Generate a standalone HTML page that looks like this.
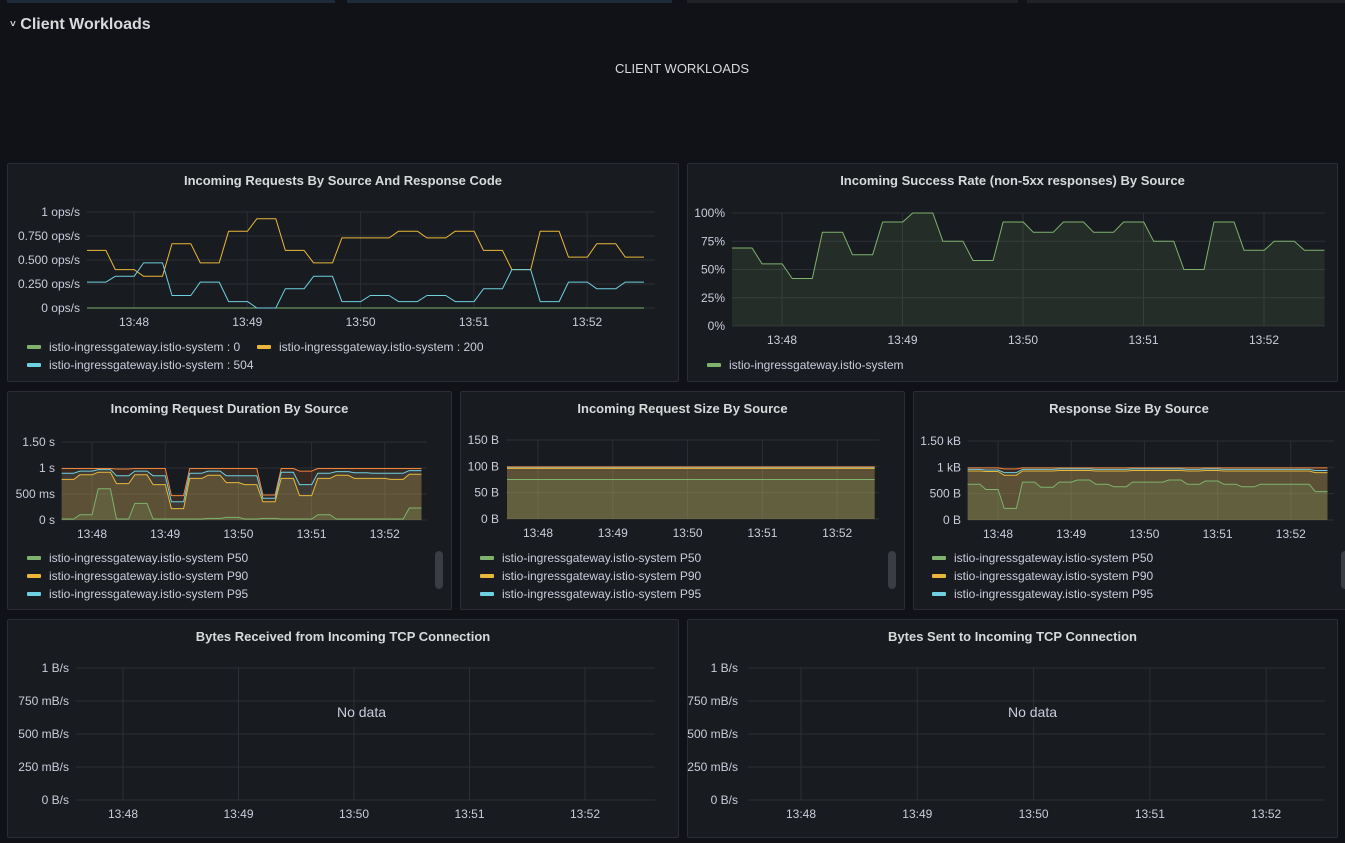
<!DOCTYPE html>
<html><head><meta charset="utf-8">
<style>
body{margin:0;width:1345px;height:843px;background:#111217;overflow:hidden;font-family:"Liberation Sans",sans-serif;color:#ccccdc;position:relative}
.panel{position:absolute;background:#181b1f;border:1px solid #2a2d33;border-radius:2px;box-sizing:border-box}
.ptitle{position:absolute;left:0;right:0;top:9px;text-align:center;font-size:13px;font-weight:bold;color:#d8d9da}
.legend{position:absolute;font-size:12px;color:#ccccdc}
.li{position:absolute;white-space:nowrap}
.li i{display:inline-block;width:14px;height:4px;border-radius:1px;margin-right:8px;vertical-align:middle;position:relative;top:-1px}
.scroll{position:absolute;width:8px;height:38px;background:#3a3d44;border-radius:4px}
svg{position:absolute;left:0;top:0}
</style></head><body>
<div style="position:absolute;left:7px;top:0;width:328px;height:3px;background:#1f2a3a"></div>
<div style="position:absolute;left:347px;top:0;width:325px;height:3px;background:#1f2a3a"></div>
<div style="position:absolute;left:687px;top:0;width:331px;height:3px;background:#202226"></div>
<div style="position:absolute;left:1027px;top:0;width:318px;height:3px;background:#202226"></div>
<div style="position:absolute;left:10px;top:16px;font-size:16px;font-weight:bold;color:#d8d9da"><span style="font-size:10px;position:relative;top:-2px">˅</span> Client Workloads</div>
<div style="position:absolute;left:0;width:1364px;top:61px;text-align:center;font-size:13px;color:#d8d9da">CLIENT WORKLOADS</div>

<div class="panel" style="left:7px;top:163px;width:672px;height:219px"><div class="ptitle">Incoming Requests By Source And Response Code</div></div>
<div class="panel" style="left:687px;top:163px;width:651px;height:219px"><div class="ptitle">Incoming Success Rate (non-5xx responses) By Source</div></div>
<div class="panel" style="left:7px;top:391px;width:445px;height:219px"><div class="ptitle">Incoming Request Duration By Source</div></div>
<div class="panel" style="left:460px;top:391px;width:445px;height:219px"><div class="ptitle">Incoming Request Size By Source</div></div>
<div class="panel" style="left:913px;top:391px;width:440px;height:219px"><div class="ptitle" style="right:8px">Response Size By Source</div></div>
<div class="panel" style="left:7px;top:619px;width:672px;height:219px"><div class="ptitle">Bytes Received from Incoming TCP Connection</div></div>
<div class="panel" style="left:687px;top:619px;width:651px;height:219px"><div class="ptitle">Bytes Sent to Incoming TCP Connection</div></div>

<div class="legend">
 <div class="li" style="left:27px;top:340px"><i style="background:#7eb26d"></i>istio-ingressgateway.istio-system : 0</div>
 <div class="li" style="left:257px;top:340px"><i style="background:#eab839"></i>istio-ingressgateway.istio-system : 200</div>
 <div class="li" style="left:27px;top:358px"><i style="background:#6ed0e0"></i>istio-ingressgateway.istio-system : 504</div>
</div>
<div class="legend">
 <div class="li" style="left:707px;top:358px"><i style="background:#7eb26d"></i>istio-ingressgateway.istio-system</div>
</div>
<div class="legend">
 <div class="li" style="left:27px;top:551px"><i style="background:#7eb26d"></i>istio-ingressgateway.istio-system P50</div>
 <div class="li" style="left:27px;top:569px"><i style="background:#eab839"></i>istio-ingressgateway.istio-system P90</div>
 <div class="li" style="left:27px;top:587px"><i style="background:#6ed0e0"></i>istio-ingressgateway.istio-system P95</div>
 <div class="scroll" style="left:435px;top:551px"></div>
</div>
<div class="legend">
 <div class="li" style="left:480px;top:551px"><i style="background:#7eb26d"></i>istio-ingressgateway.istio-system P50</div>
 <div class="li" style="left:480px;top:569px"><i style="background:#eab839"></i>istio-ingressgateway.istio-system P90</div>
 <div class="li" style="left:480px;top:587px"><i style="background:#6ed0e0"></i>istio-ingressgateway.istio-system P95</div>
 <div class="scroll" style="left:888px;top:551px"></div>
</div>
<div class="legend">
 <div class="li" style="left:932px;top:551px"><i style="background:#7eb26d"></i>istio-ingressgateway.istio-system P50</div>
 <div class="li" style="left:932px;top:569px"><i style="background:#eab839"></i>istio-ingressgateway.istio-system P90</div>
 <div class="li" style="left:932px;top:587px"><i style="background:#6ed0e0"></i>istio-ingressgateway.istio-system P95</div>
 <div class="scroll" style="left:1341px;top:551px"></div>
</div>

<svg id="charts" width="1345" height="843"></svg>

<script>
// ---- data (values per 15s step, starting 13:47:35) ----
const timeTicks = [48, 49, 50, 51, 52];
const timeTickLabels = ["13:48", "13:49", "13:50", "13:51", "13:52"];
const startMinute = 47.585;
const stepMinutes = 0.25;

const reqCode0 = [0,0,0,0,0,0,0,0,0,0,0,0,0,0,0,0,0,0,0,0];
const reqCode200 = [0.6,0.4,0.33,0.67,0.47,0.8,0.93,0.6,0.47,0.73,0.73,0.8,0.73,0.8,0.6,0.4,0.8,0.53,0.67,0.53];
const reqCode504 = [0.27,0.33,0.47,0.13,0.27,0.067,0,0.2,0.33,0.067,0.13,0.067,0.13,0.067,0.2,0.4,0.067,0.27,0.2,0.27];
const reqTicks = [0, 0.25, 0.5, 0.75, 1];
const reqTickLabels = ["0 ops/s", "0.250 ops/s", "0.500 ops/s", "0.750 ops/s", "1 ops/s"];

const successRate = [69,55,42,83,63,92,100,75,58,92,83,92,83,92,75,50,92,67,75,67];
const successTicks = [0, 25, 50, 75, 100];
const successTickLabels = ["0%", "25%", "50%", "75%", "100%"];

const durP50 = [0.02,0.1,0.6,0.02,0.32,0.02,0.02,0.02,0.03,0.05,0.02,0.03,0.02,0.02,0.1,0.02,0.02,0.02,0.02,0.23];
const durP90 = [0.78,0.87,0.92,0.7,0.87,0.68,0.22,0.8,0.86,0.72,0.68,0.35,0.8,0.47,0.8,0.86,0.8,0.8,0.78,0.88];
const durP95 = [0.9,0.94,0.97,0.85,0.94,0.85,0.35,0.9,0.94,0.85,0.85,0.42,0.92,0.68,0.9,0.93,0.91,0.9,0.9,0.95];
const durP99 = [0.99,0.99,0.99,0.98,0.99,0.99,0.47,0.99,0.99,0.99,0.99,0.48,0.99,0.94,0.99,0.99,0.99,0.99,0.99,0.99];
const durTicks = [0, 0.5, 1, 1.5];
const durTickLabels = ["0 s", "500 ms", "1 s", "1.50 s"];

const reqSizeP50 = [75,75,75,75,75,75,75,75,75,75,75,75,75,75,75,75,75,75,75,75];
const reqSizeP90 = [96,96,96,96,96,96,96,96,96,96,96,96,96,96,96,96,96,96,96,96];
const reqSizeP95 = [97,97,97,97,97,97,97,97,97,97,97,97,97,97,97,97,97,97,97,97];
const reqSizeP99 = [99,99,99,99,99,99,99,99,99,99,99,99,99,99,99,99,99,99,99,99];
const reqSizeTicks = [0, 50, 100, 150];
const reqSizeTickLabels = ["0 B", "50 B", "100 B", "150 B"];

const respP50 = [0.68,0.58,0.22,0.72,0.62,0.72,0.76,0.68,0.63,0.72,0.72,0.76,0.68,0.74,0.68,0.63,0.68,0.68,0.68,0.54];
const respP90 = [0.93,0.92,0.85,0.93,0.93,0.94,0.94,0.93,0.93,0.94,0.94,0.94,0.93,0.94,0.93,0.93,0.93,0.93,0.93,0.9];
const respP95 = [0.96,0.95,0.9,0.96,0.96,0.97,0.97,0.96,0.96,0.97,0.97,0.97,0.96,0.97,0.96,0.96,0.96,0.96,0.96,0.94];
const respP99 = [0.99,0.99,0.97,0.99,0.99,0.99,0.99,0.99,0.99,0.99,0.99,0.99,0.99,0.99,0.99,0.99,0.99,0.99,0.99,0.99];
const respTicks = [0, 0.5, 1, 1.5];
const respTickLabels = ["0 B", "500 B", "1 kB", "1.50 kB"];

const tcpTicks = [0, 0.25, 0.5, 0.75, 1];
const tcpTickLabels = ["0 B/s", "250 mB/s", "500 mB/s", "750 mB/s", "1 B/s"];

const GREEN="#7eb26d", YELLOW="#eab839", CYAN="#6ed0e0", ORANGE="#ef843c";
const NS="http://www.w3.org/2000/svg";
const svg=document.getElementById('charts');

function el(tag, attrs, parent){
  const e=document.createElementNS(NS,tag);
  for(const k in attrs) e.setAttribute(k,attrs[k]);
  (parent||svg).appendChild(e);
  return e;
}

function chart(cfg){
  const g=el('g',{});
  
  
  const xs=t=>cfg.x48+(t-48)*cfg.ppm;
  const ys=v=>cfg.yBottom-(v-cfg.yMin)/(cfg.yMax-cfg.yMin)*(cfg.yBottom-cfg.yTop);
  const lblOff=cfg.lblOff||7;
  cfg.yTicks.forEach((v,i)=>{
    const y=ys(v);
    const gl=el('line',{x1:cfg.left,x2:cfg.right,y1:y,y2:y,stroke:'#2c2f36','stroke-width':1},g);
    
    
    const t=el('text',{x:cfg.left-lblOff,y:y+4,'text-anchor':'end','font-size':12,fill:'#ccccdc'},g);
    t.textContent=cfg.yLabels[i];
    
    
  });
  timeTicks.forEach((m,i)=>{
    const x=xs(m);
    const gl=el('line',{x1:x,x2:x,y1:cfg.yTop,y2:cfg.yBottom,stroke:'#2c2f36','stroke-width':1},g);
    
    
    const t=el('text',{x:x,y:cfg.yBottom+18,'text-anchor':'middle','font-size':12,fill:'#ccccdc'},g);
    t.textContent=timeTickLabels[i];
    
    
  });
  (cfg.series||[]).forEach(s=>{
    const pts=[];
    s.values.forEach((v,i)=>{
      for(let k=0;k<3;k++){
        const idx=i*3+k;
        pts.push([xs(startMinute+idx*stepMinutes/3), ys(v)]);
      }
    });
    const d=pts.map((p,i)=>(i?'L':'M')+p[0].toFixed(1)+','+p[1].toFixed(1)).join('');
    if(s.fill){
      const a=el('path',{d:d+'L'+pts[pts.length-1][0].toFixed(1)+','+ys(cfg.yMin)+'L'+pts[0][0].toFixed(1)+','+ys(cfg.yMin)+'Z',fill:s.color,'fill-opacity':s.fill,stroke:'none'},g);
      
      
    }
    const p=el('path',{d:d,fill:'none',stroke:s.color,'stroke-width':1,'stroke-linejoin':'round'},g);
    
    
  });
  if(cfg.noData){
    const t=el('text',{x:(cfg.left+cfg.right)/2-4,y:cfg.yTop+49,'text-anchor':'middle','font-size':14,fill:'#ccccdc'},g);
    t.textContent='No data';
    
    
  }
}

chart({name:'incoming-requests-chart',left:87,right:655,yTop:212,yBottom:308,yMin:0,yMax:1,yTicks:reqTicks,yLabels:reqTickLabels,x48:134,ppm:113.3,
 series:[{name:'code-0',values:reqCode0,color:GREEN},{name:'code-200',values:reqCode200,color:YELLOW},{name:'code-504',values:reqCode504,color:CYAN}]});
chart({name:'success-rate-chart',left:732,right:1325,yTop:213,yBottom:326,yMin:0,yMax:100,yTicks:successTicks,yLabels:successTickLabels,x48:782,ppm:120.5,
 series:[{name:'success',values:successRate,color:GREEN,fill:0.12}]});
chart({name:'request-duration-chart',left:62,right:427,yTop:442,yBottom:520,yMin:0,yMax:1.5,yTicks:durTicks,yLabels:durTickLabels,x48:92,ppm:73.2,
 series:[{name:'p99',values:durP99,color:ORANGE,fill:0.15},{name:'p95',values:durP95,color:CYAN,fill:0.1},{name:'p90',values:durP90,color:YELLOW,fill:0.18},{name:'p50',values:durP50,color:GREEN,fill:0.15}]});
chart({name:'request-size-chart',left:506,right:879,yTop:440,yBottom:519,yMin:0,yMax:150,yTicks:reqSizeTicks,yLabels:reqSizeTickLabels,x48:538,ppm:74.8,
 series:[{name:'p99',values:reqSizeP99,color:ORANGE,fill:0.15},{name:'p95',values:reqSizeP95,color:CYAN,fill:0.1},{name:'p90',values:reqSizeP90,color:YELLOW,fill:0.18},{name:'p50',values:reqSizeP50,color:GREEN,fill:0.15}]});
chart({name:'response-size-chart',left:968,right:1334,yTop:441,yBottom:520,yMin:0,yMax:1.5,yTicks:respTicks,yLabels:respTickLabels,x48:998,ppm:73.2,
 series:[{name:'p99',values:respP99,color:ORANGE,fill:0.15},{name:'p95',values:respP95,color:CYAN,fill:0.1},{name:'p90',values:respP90,color:YELLOW,fill:0.18},{name:'p50',values:respP50,color:GREEN,fill:0.15}]});
chart({name:'bytes-received-chart',left:76,right:655,yTop:668,yBottom:800,yMin:0,yMax:1,yTicks:tcpTicks,yLabels:tcpTickLabels,x48:123,ppm:115.5,noData:true});
chart({name:'bytes-sent-chart',left:748,right:1325,yTop:668,yBottom:800,yMin:0,yMax:1,yTicks:tcpTicks,yLabels:tcpTickLabels,x48:801,ppm:116.3,noData:true,lblOff:10});
</script>
</body></html>
